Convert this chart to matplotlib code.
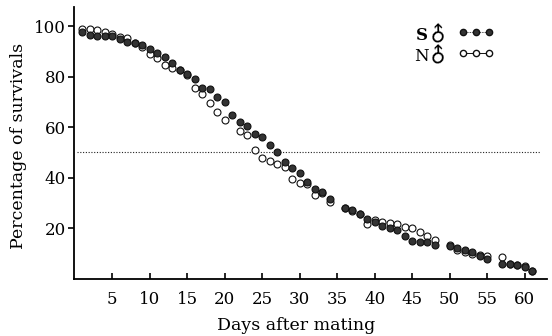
import numpy as np
import matplotlib
matplotlib.use("Agg")
import matplotlib.pyplot as plt

days = [1, 2, 3, 4, 5, 6, 7, 8, 9, 10, 11, 12, 13, 14, 15, 16, 17, 18, 19, 20,
        21, 22, 23, 24, 25, 26, 27, 28, 29, 30, 31, 32, 33, 34, 36, 37, 38, 39, 40,
        41, 42, 43, 44, 45, 46, 47, 48, 50, 51, 52, 53, 54, 55, 57, 58, 59, 60, 61]

s_vals = [97.8, 96.5, 95.9, 96.0, 96.0, 95.0, 93.5, 93.1, 92.3, 90.9,
          89.4, 87.6, 85.2, 82.6, 81.0, 79.2, 75.6, 75.0, 72.0, 70.1,
          65.0, 62.0, 60.6, 57.4, 56.2, 53.0, 50.1, 46.3, 44.0, 42.0,
          38.5, 35.4, 34.5, 31.5, 28.2, 27.3, 25.8, 23.8, 22.6,
          20.9, 20.0, 19.4, 17.0, 15.1, 14.7, 14.7, 13.4, 13.0, 12.1,
          11.3, 10.5, 9.0, 7.7, 6.0, 5.7, 5.5, 4.7, 3.2]

n_vals = [99.0, 98.8, 98.6, 97.5, 96.7, 95.8, 95.1, 93.4, 91.6, 88.9,
          87.2, 84.4, 83.5, 82.5, 80.6, 75.5, 73.0, 69.6, 65.9, 63.0,
          np.nan, 58.6, 56.8, 50.8, 48.0, 46.7, 45.5, 44.4, 39.5, 38.1,
          37.5, 33.2, 34.0, 30.5, 28.0, 27.0, 25.5, 21.6, 23.3,
          22.3, 22.0, 21.7, 20.7, 20.0, 18.7, 17.0, 15.2, 13.4, 11.6,
          10.8, 10.0, 9.5, 9.2, 8.5, 5.9, 5.5, 4.9, 3.3]

x_ticks = [5, 10, 15, 20, 25, 30, 35, 40, 45, 50, 55, 60]
y_ticks = [20, 40, 60, 80, 100]
half_line = 50

plt.rcParams['font.family'] = ['DejaVu Serif']

fig = plt.figure(figsize=(5.52, 3.36), dpi=100)
ax = fig.add_axes([0.134, 0.17, 0.857, 0.809])

ax.hlines(half_line, 0.3, 62, colors='#222222', linestyles=(0, (1, 1.5)), linewidth=0.8)

ax.plot(days, n_vals, linestyle='none', marker='o', markersize=5,
        markerfacecolor='white', markeredgecolor='#111111', markeredgewidth=0.8)
ax.plot(days, s_vals, linestyle='none', marker='o', markersize=5,
        markerfacecolor='#333333', markeredgecolor='#111111', markeredgewidth=0.8)

ax.set_xlim(-0.1, 63)
ax.set_ylim(0, 107.5)
ax.set_xticks(x_ticks)
ax.set_yticks(y_ticks)
ax.spines['top'].set_visible(False)
ax.spines['right'].set_visible(False)
for sp in ('left', 'bottom'):
    ax.spines[sp].set_linewidth(1.3)
ax.tick_params(axis='x', direction='in', length=4, width=1.2, pad=9, labelsize=12)
ax.tick_params(axis='y', direction='out', length=4, width=1.2, pad=2, labelsize=12)

ax.set_xlabel('Days after mating', fontsize=12.5)
ax.xaxis.set_label_coords(0.47, -0.14)
ax.set_ylabel('Percentage of survivals', fontsize=12.5)
ax.yaxis.set_label_coords(-0.1, 0.49)

# legend
ax.text(0.735, 0.895, 'S', transform=ax.transAxes, fontsize=12, fontweight='bold',
        ha='center', va='center')
ax.text(0.735, 0.818, 'N', transform=ax.transAxes, fontsize=12,
        ha='center', va='center')
for yy in (0.9, 0.823):
    ax.text(0.772, yy, '\u2642', transform=ax.transAxes, fontsize=15, rotation=45,
            ha='center', va='center', family='DejaVu Sans')
lx = [0.822, 0.850, 0.877]
ax.plot(lx, [0.907] * 3, transform=ax.transAxes, color='#111111', linewidth=0.6,
        linestyle=(0, (1, 1)), marker='o', markersize=4.5,
        markerfacecolor='#333333', markeredgecolor='#111111', clip_on=False)
ax.plot(lx, [0.83] * 3, transform=ax.transAxes, color='#111111', linewidth=0.7,
        marker='o', markersize=4.5, markerfacecolor='white',
        markeredgecolor='#111111', clip_on=False)

fig.savefig('out.png', dpi=100)
